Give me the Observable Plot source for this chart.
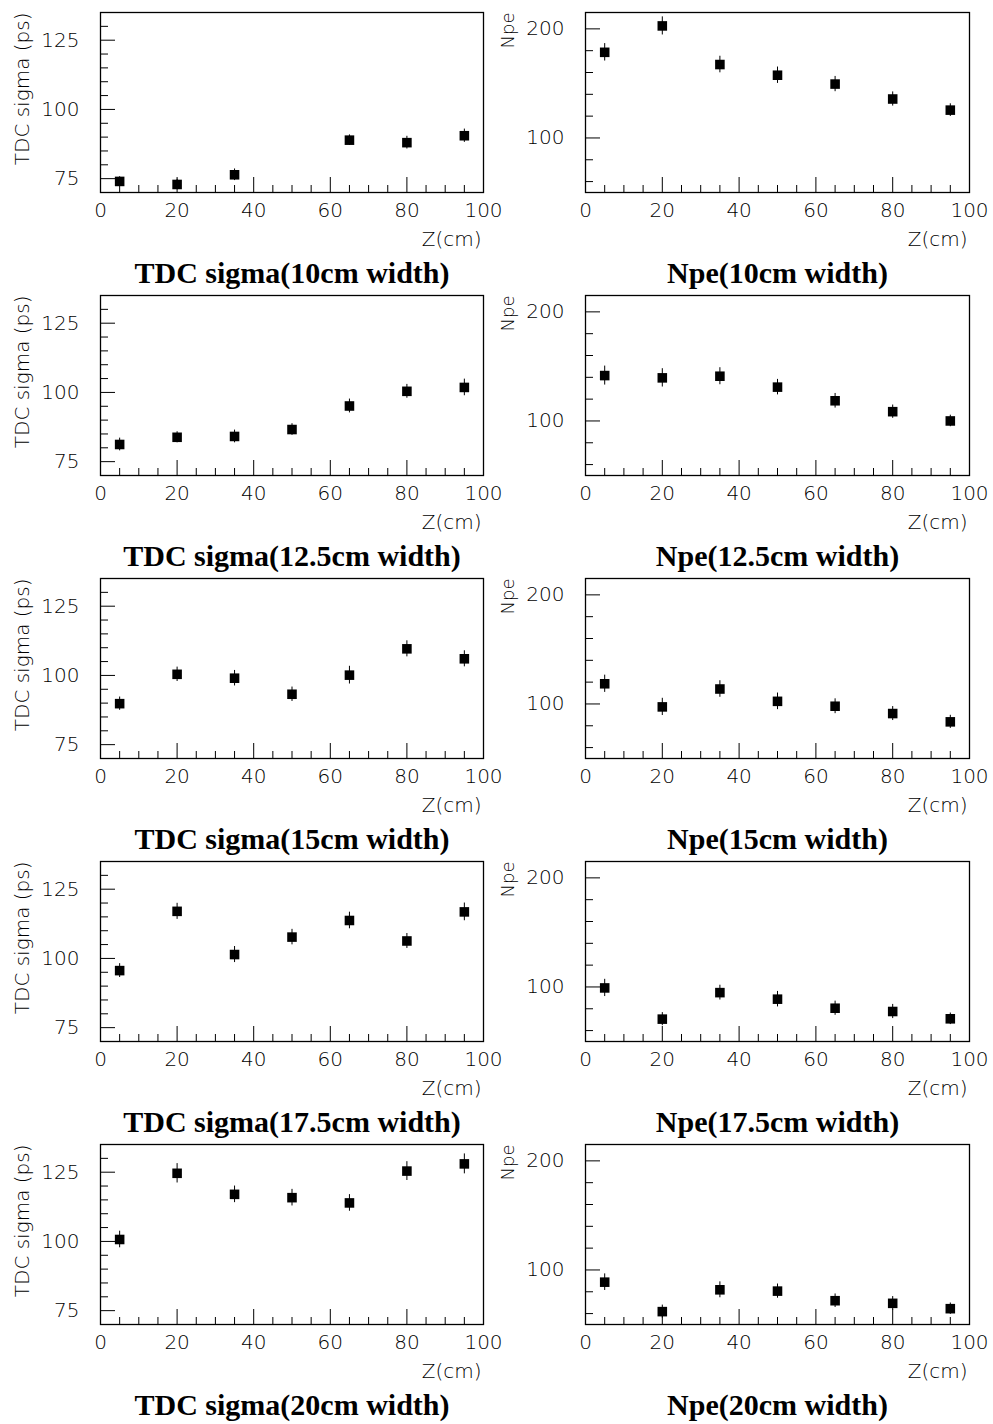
<!DOCTYPE html>
<html><head><meta charset="utf-8">
<script src="https://cdn.jsdelivr.net/npm/d3@7"></script>
<script src="https://cdn.jsdelivr.net/npm/@observablehq/plot@0.6"></script>
<style>
html,body{margin:0;background:#fff;}
body{min-height:1424px;}
#grid{display:grid;grid-template-columns:497px 496px;grid-auto-rows:283px;width:993px;padding-bottom:9px;overflow:visible;}
#grid svg{overflow:visible;background:transparent;}
</style></head><body><div id="grid"></div>
<script>
// ---- data ----
const zPositions = [5, 20, 35, 50, 65, 80, 95];
const widths = ["10cm", "12.5cm", "15cm", "17.5cm", "20cm"];

const tdc10  = [74.0, 72.9, 76.4, null, 88.9, 88.0, 90.5];
const tdc10Err  = [1.7, 1.9, 2.1, null, 1.9, 2.3, 2.4];
const tdc125 = [81.2, 83.8, 84.1, 86.6, 95.1, 100.4, 101.8];
const tdc125Err = [2.3, 2.0, 2.3, 2.1, 2.5, 2.5, 3.0];
const tdc15  = [89.8, 100.4, 99.0, 93.2, 100.1, 109.6, 106.0];
const tdc15Err  = [2.4, 2.6, 2.8, 2.6, 3.2, 2.9, 2.9];
const tdc175 = [95.6, 117.0, 101.4, 107.7, 113.7, 106.3, 116.8];
const tdc175Err = [2.5, 2.9, 2.9, 2.8, 3.0, 2.7, 3.2];
const tdc20  = [100.7, 124.6, 117.0, 115.8, 113.9, 125.4, 128.0];
const tdc20Err  = [3.0, 3.5, 3.0, 3.0, 3.0, 3.4, 3.6];

const npe10  = [178.5, 202.7, 167.3, 157.5, 149.4, 135.7, 125.5];
const npe10Err  = [8.0, 8.3, 7.6, 7.5, 7.0, 6.5, 5.8];
const npe125 = [141.6, 139.5, 141.0, 131.0, 118.5, 108.5, 100.0];
const npe125Err = [8.7, 8.4, 7.8, 7.1, 6.7, 6.1, 5.3];
const npe15  = [118.5, 97.3, 113.7, 102.4, 97.9, 91.2, 83.6];
const npe15Err  = [7.9, 7.9, 7.6, 7.6, 6.8, 6.4, 6.0];
const npe175 = [99.1, 70.5, 94.8, 88.8, 80.5, 77.5, 70.8];
const npe175Err = [7.9, 6.0, 6.8, 7.1, 6.5, 6.5, 5.3];
const npe20  = [88.8, 61.8, 81.8, 80.6, 71.8, 69.4, 64.5];
const npe20Err  = [7.6, 6.0, 7.3, 6.5, 6.2, 6.2, 5.2];

// ---- tick labels / axes ----
const xDomain = [0, 100];
const xMajorTicks = [0, 20, 40, 60, 80, 100];
const xMinorTicks = [5, 10, 15, 25, 30, 35, 45, 50, 55, 65, 70, 75, 85, 90, 95];
const tdcDomain = [70, 135];
const tdcMajorTicks = [75, 100, 125];
const tdcMinorTicks = [80, 85, 90, 95, 105, 110, 115, 120, 130];
const npeDomain = [50, 215];
const npeMajorTicks = [100, 200];
const npeMinorTicks = [60, 80, 120, 140, 160, 180];
const xLabel = "Z(cm)";
const tdcLabel = "TDC sigma (ps)";
const npeLabel = "Npe";

const tdcSeries = [[tdc10, tdc10Err], [tdc125, tdc125Err], [tdc15, tdc15Err], [tdc175, tdc175Err], [tdc20, tdc20Err]];
const npeSeries = [[npe10, npe10Err], [npe125, npe125Err], [npe15, npe15Err], [npe175, npe175Err], [npe20, npe20Err]];

function rowsOf(values, errs) {
  return zPositions.map((z, i) => ({z, v: values[i], e: errs[i]})).filter(d => d.v != null);
}

function panel({values, errs, width, marginLeft, marginRight, yDomain, yMajor, yMinor, yLabel, title}) {
  const rows = rowsOf(values, errs);
  return Plot.plot({
    width, height: 283,
    marginTop: 12, marginBottom: 91, marginLeft, marginRight,
    x: {domain: xDomain},
    y: {domain: yDomain},
    style: {fontFamily: "DejaVu Sans", fontSize: "20px", fontWeight: 300, background: "transparent", color: "black", overflow: "visible"},
    marks: [
      Plot.frame({stroke: "black", strokeWidth: 1.3}),
      Plot.axisX(xMajorTicks, {tickSize: -15, fill: "none", label: null}),
      Plot.axisX(xMinorTicks, {tickSize: -7, fill: "none", label: null}),
      Plot.axisY(yMajor, {tickSize: -15, fill: "none", label: null}),
      Plot.axisY(yMinor, {tickSize: -8, fill: "none", label: null}),
      Plot.axisX(xMajorTicks, {tickSize: 0, tickPadding: 10, label: null}),
      Plot.axisY(yMajor, {tickSize: 0, tickPadding: 21, label: null}),
      Plot.ruleX(rows, {x: "z", y1: d => d.v - d.e, y2: d => d.v + d.e, stroke: "black", strokeWidth: 1}),
      Plot.dot(rows, {x: "z", y: "v", symbol: "square", r: 5.4, fill: "black"}),
      Plot.text([yLabel], {text: d => d, frameAnchor: "top-left", rotate: -90, textAnchor: "end", lineAnchor: "bottom", dx: -72, fontSize: yLabel === npeLabel ? 18 : 20}),
      Plot.text([xLabel], {text: d => d, frameAnchor: "bottom-right", textAnchor: "end", lineAnchor: "bottom", dx: -2, dy: 53}),
      Plot.text([title], {text: d => d, frameAnchor: "bottom", lineAnchor: "bottom", dy: 90, fontSize: 30, fontWeight: "bold", fontFamily: "Liberation Serif"})
    ]
  });
}

const grid = document.getElementById("grid");
widths.forEach((w, i) => {
  grid.append(panel({
    values: tdcSeries[i][0], errs: tdcSeries[i][1], width: 497, marginLeft: 100, marginRight: 14,
    yDomain: tdcDomain, yMajor: tdcMajorTicks, yMinor: tdcMinorTicks, yLabel: tdcLabel,
    title: `TDC sigma(${w} width)`
  }));
  grid.append(panel({
    values: npeSeries[i][0], errs: npeSeries[i][1], width: 496, marginLeft: 88, marginRight: 24,
    yDomain: npeDomain, yMajor: npeMajorTicks, yMinor: npeMinorTicks, yLabel: npeLabel,
    title: `Npe(${w} width)`
  }));
});
</script></body></html>
